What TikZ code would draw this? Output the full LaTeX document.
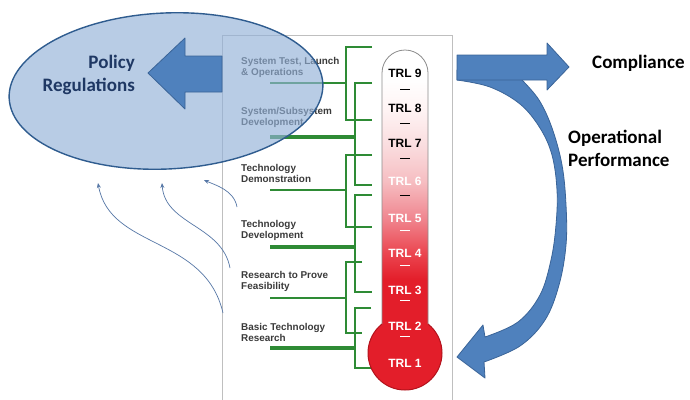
\documentclass[tikz,border=0pt]{standalone}
\usepackage{fontspec}
\newfontfamily\calfont{Carlito}
\newfontfamily\arlfont{Liberation Sans}
\usetikzlibrary{arrows.meta}

\definecolor{trlred}{HTML}{E31E2A}
\definecolor{trldark}{HTML}{B3121C}
\definecolor{trlA}{HTML}{EB4650}
\definecolor{trlB}{HTML}{F08790}
\definecolor{trlC}{HTML}{F6BEC2}
\definecolor{trlD}{HTML}{FADDDF}
\definecolor{trlE}{HTML}{FFF4F4}
\definecolor{brgreen}{HTML}{2E8B35}
\definecolor{catgray}{HTML}{3A3A3A}
\definecolor{ellfill}{HTML}{92B1D8}
\definecolor{elldraw}{HTML}{2F5C8F}
\definecolor{arrfill}{HTML}{4F81BD}
\definecolor{arrdraw}{HTML}{3A6498}
\definecolor{polblue}{HTML}{1F3864}
\definecolor{thinblue}{HTML}{5677A6}

\pgfdeclareverticalshading{trlshade}{100bp}{color(0bp)=(trlred); color(34bp)=(trlred); color(38.75bp)=(trlA); color(45bp)=(trlB); color(51.6bp)=(trlC); color(58bp)=(trlD); color(64.5bp)=(trlE); color(70bp)=(white); color(100bp)=(white)}

\begin{document}
\begin{tikzpicture}[x=1pt,y=-1pt,
		catlabel/.style={anchor=west,align=left,inner sep=0pt,text=catgray,font=\arlfont\bfseries\fontsize{9.9}{11}\selectfont},
		trllabel/.style={inner sep=0pt,font=\arlfont\bfseries\fontsize{12}{14}\selectfont},
		bigtext/.style={inner sep=0pt,align=left,font=\calfont\bfseries\fontsize{19}{23}\selectfont},
		bracket/.style={draw=brgreen,line width=2.2pt},
		blockarrow/.style={fill=arrfill,draw=arrdraw,line width=0.8pt,line join=round},
		thinarrow/.style={draw=thinblue,line width=0.7pt,-{Stealth[length=5pt,width=4pt]}}]

	\useasboundingbox (0,0) rectangle (690,399);
	\fill[white] (0,0) rectangle (690,399);

	% panel
	\draw[fill=white,draw=black!25] (222,35) rectangle (452,400);

	\node[catlabel] (cat1) at (241,67.5) {System Test, Launch\\\& Operations};
	\node[catlabel] (cat2) at (241,117) {System/Subsystem\\Development};
	\node[catlabel] (cat3) at (241,173.5) {Technology\\Demonstration};
	\node[catlabel] (cat4) at (241,230) {Technology\\Development};
	\node[catlabel] (cat5) at (241,281.5) {Research to Prove\\Feasibility};
	\node[catlabel] (cat6) at (241,332) {Basic Technology\\Research};

	\foreach \t/\b/\x/\c/\e/\w in {47/120/346/83/372/2.2, 83/185/355/137/372/3.2, 155/227/346/190/372/2.2, 195/292/355/247/372/3.2, 262/333/346/298/362/2.2, 308/368/355/348/371/3.2}
	{
		\draw[bracket] (\e,\t) -- (\x,\t) -- (\x,\b) -- (\e,\b);
		\draw[bracket,line width=\w pt] (270,\c) -- (\x,\c);
	}

	% thermometer
	\draw[fill=trlred,draw=trldark,line width=1pt] (405,353) circle [radius=37pt];
	\shade[shading=trlshade] (382,330) -- (382,73) arc (180:0:23pt) -- (428,330) -- cycle;
	\draw[black!45,line width=0.8pt] (382,324) -- (382,73) arc (180:0:23pt) -- (428,324);

	\foreach \k/\ty/\tc in {1/363/white, 2/326/white, 3/290/white, 4/253/white, 5/218/white, 6/181/white, 7/143/black, 8/108/black, 9/73/black}
		\node[trllabel,text=\tc] (trl\k) at (405,\ty) {TRL \k};
	\foreach \dy/\dc in {89/black, 123/black, 158/black, 195/black, 230/white, 265/white, 300/white, 336/white}
		\draw[\dc,line width=1pt] (400,\dy) -- (410,\dy);

	% thin arrows up to the ellipse
	\coordinate (s1) at (223,313);
	\coordinate (e1) at (98,183);
	\coordinate (s2) at (230,268);
	\coordinate (e2) at (162,183);
	\coordinate (s3) at (237,207);
	\coordinate (e3) at (204,180);
	\draw[thinarrow] (s1) .. controls (205,235) and (110,250) .. (e1);
	\draw[thinarrow] (s2) .. controls (222,225) and (165,225) .. (e2);
	\draw[thinarrow] (s3) .. controls (234,190) and (215,185) .. (e3);

	% policy ellipse
	\draw[fill=ellfill,fill opacity=0.65,draw=elldraw,line width=1.4pt,rotate around={2.7:(166,91)}] (166,91) ellipse [x radius=157pt,y radius=78pt];
	\draw[blockarrow] (222,56) -- (185,56) -- (185,38) -- (148,73) -- (185,109) -- (185,92) -- (222,92) -- cycle;
	\node[bigtext,align=right,anchor=east,text=polblue] (policy) at (135,75) {Policy\\Regulations};

	% right arrows
	\draw[blockarrow] (457,70) -- (457,80)
		-- plot[smooth,tension=0.6] coordinates {(457,80) (490,87) (520,104) (540,128) (552,155) (557,190) (556,225) (551,260) (540,295) (518,322) (485,337)}
		-- (483,325) -- (457,357) -- (485,378) -- (484,362)
		-- plot[smooth,tension=0.6] coordinates {(484,362) (520,346) (545,320) (559,285) (566,245) (566,205) (562,165) (552,128) (539,100) (522,80)}
		-- (522,70) -- cycle;
	\draw[blockarrow] (457,55) -- (547,55) -- (547,43) -- (569,67) -- (547,90) -- (547,80) -- (457,80) -- cycle;

	\node[bigtext,anchor=west] (compl) at (592,63) {Compliance};
	\node[bigtext,anchor=west] (operf) at (568,148.5) {Operational\\Performance};

\end{tikzpicture}
\end{document}
